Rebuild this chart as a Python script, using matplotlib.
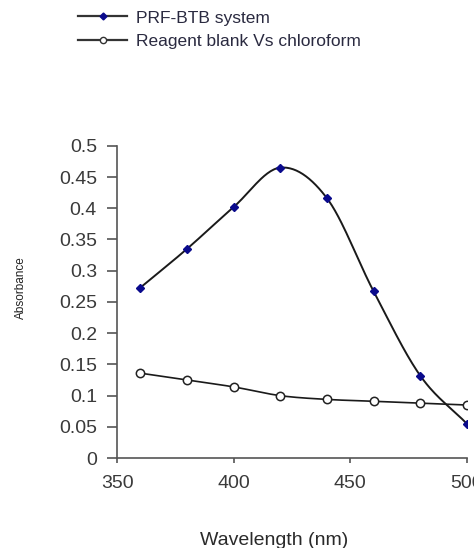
import numpy as np
import matplotlib
matplotlib.use("Agg")
import matplotlib.pyplot as plt
from matplotlib.lines import Line2D

plt.rcParams['font.family'] = ['Liberation Sans', 'DejaVu Sans']

wavelength = [360, 380, 400, 420, 440, 460, 480, 500]
prf_btb = [0.273, 0.335, 0.402, 0.465, 0.416, 0.267, 0.132, 0.055]
blank = [0.136, 0.125, 0.114, 0.100, 0.094, 0.091, 0.088, 0.085]
series_names = ["PRF-BTB system", "Reagent blank Vs chloroform"]
x_ticks = [350, 400, 450, 500]
y_ticks = [0, 0.05, 0.1, 0.15, 0.2, 0.25, 0.3, 0.35, 0.4, 0.45, 0.5]
y_ticklabels = ["0", "0.05", "0.1", "0.15", "0.2", "0.25", "0.3", "0.35", "0.4", "0.45", "0.5"]


def smooth(x, y, n=30):
    x = np.asarray(x, float)
    y = np.asarray(y, float)
    px = np.concatenate([[2 * x[0] - x[1]], x, [2 * x[-1] - x[-2]]])
    py = np.concatenate([[2 * y[0] - y[1]], y, [2 * y[-1] - y[-2]]])
    xs, ys = [], []
    t = np.linspace(0, 1, n)
    for i in range(1, len(px) - 2):
        p0, p1, p2, p3 = (np.array([px[j], py[j]]) for j in range(i - 1, i + 3))
        c1 = p1 + (p2 - p0) / 6
        c2 = p2 - (p3 - p1) / 6
        b = ((1 - t) ** 3)[:, None] * p1 + (3 * (1 - t) ** 2 * t)[:, None] * c1 \
            + (3 * (1 - t) * t ** 2)[:, None] * c2 + (t ** 3)[:, None] * p2
        xs.extend(b[:, 0])
        ys.extend(b[:, 1])
    return np.array(xs), np.array(ys)


fig = plt.figure(figsize=(4.74, 5.48), dpi=100)
ax = fig.add_axes([0.247, 0.164, 0.738, 0.570])

sx, sy = smooth(wavelength, prf_btb)
ax.plot(sx, sy, color='#1a1a1a', lw=1.4, zorder=2)
ax.plot(wavelength, prf_btb, ls='none', marker='D', ms=4.5, mfc='#0a0a8c', mec='#0a0a8c', zorder=3)

bx, by = smooth(wavelength, blank)
ax.plot(bx, by, color='#1a1a1a', lw=1.2, zorder=2)
ax.plot(wavelength, blank, ls='none', marker='o', ms=6, mfc='white', mec='#222222', mew=1.1, zorder=3)

ax.set_xlim(350, 500)
ax.set_ylim(0, 0.5)
ax.set_xticks(x_ticks)
ax.set_yticks(y_ticks)
ax.set_yticklabels(y_ticklabels)
ax.spines['top'].set_visible(False)
ax.spines['right'].set_visible(False)
for s in ('left', 'bottom'):
    ax.spines[s].set_color('#555555')
    ax.spines[s].set_linewidth(1.2)
ax.tick_params(direction='out', width=1.2, color='#555555',
               labelsize=14, labelcolor='#3a3a3a')
ax.tick_params(axis='y', length=7, pad=7.5)
ax.tick_params(axis='x', length=3.6, pad=8.5)
for lab in ax.get_xticklabels():
    lab.set_clip_on(False)

fig.text(0.044, 0.476, "Absorbance", rotation=90, ha='center', va='center',
         fontsize=8.5, color='#222222')
fig.text(0.578, 0.030, "Wavelength (nm)", ha='center', va='top',
         fontsize=14, color='#2a2a2a')

handles = [
    Line2D([0], [0], color='#333333', lw=1.6, marker='D', ms=3.5, mfc='#0a0a8c', mec='#0a0a8c'),
    Line2D([0], [0], color='#333333', lw=1.6, marker='o', ms=4.5, mfc='white', mec='#333333'),
]
fig.legend(handles, series_names, loc='upper left', bbox_to_anchor=(78 / 474, 0.981),
           frameon=False, fontsize=12.5, handlelength=2.85, handletextpad=0.5,
           labelspacing=0.5, borderpad=0, borderaxespad=0, labelcolor='#2a2a40')

fig.savefig("out.png", dpi=100)
